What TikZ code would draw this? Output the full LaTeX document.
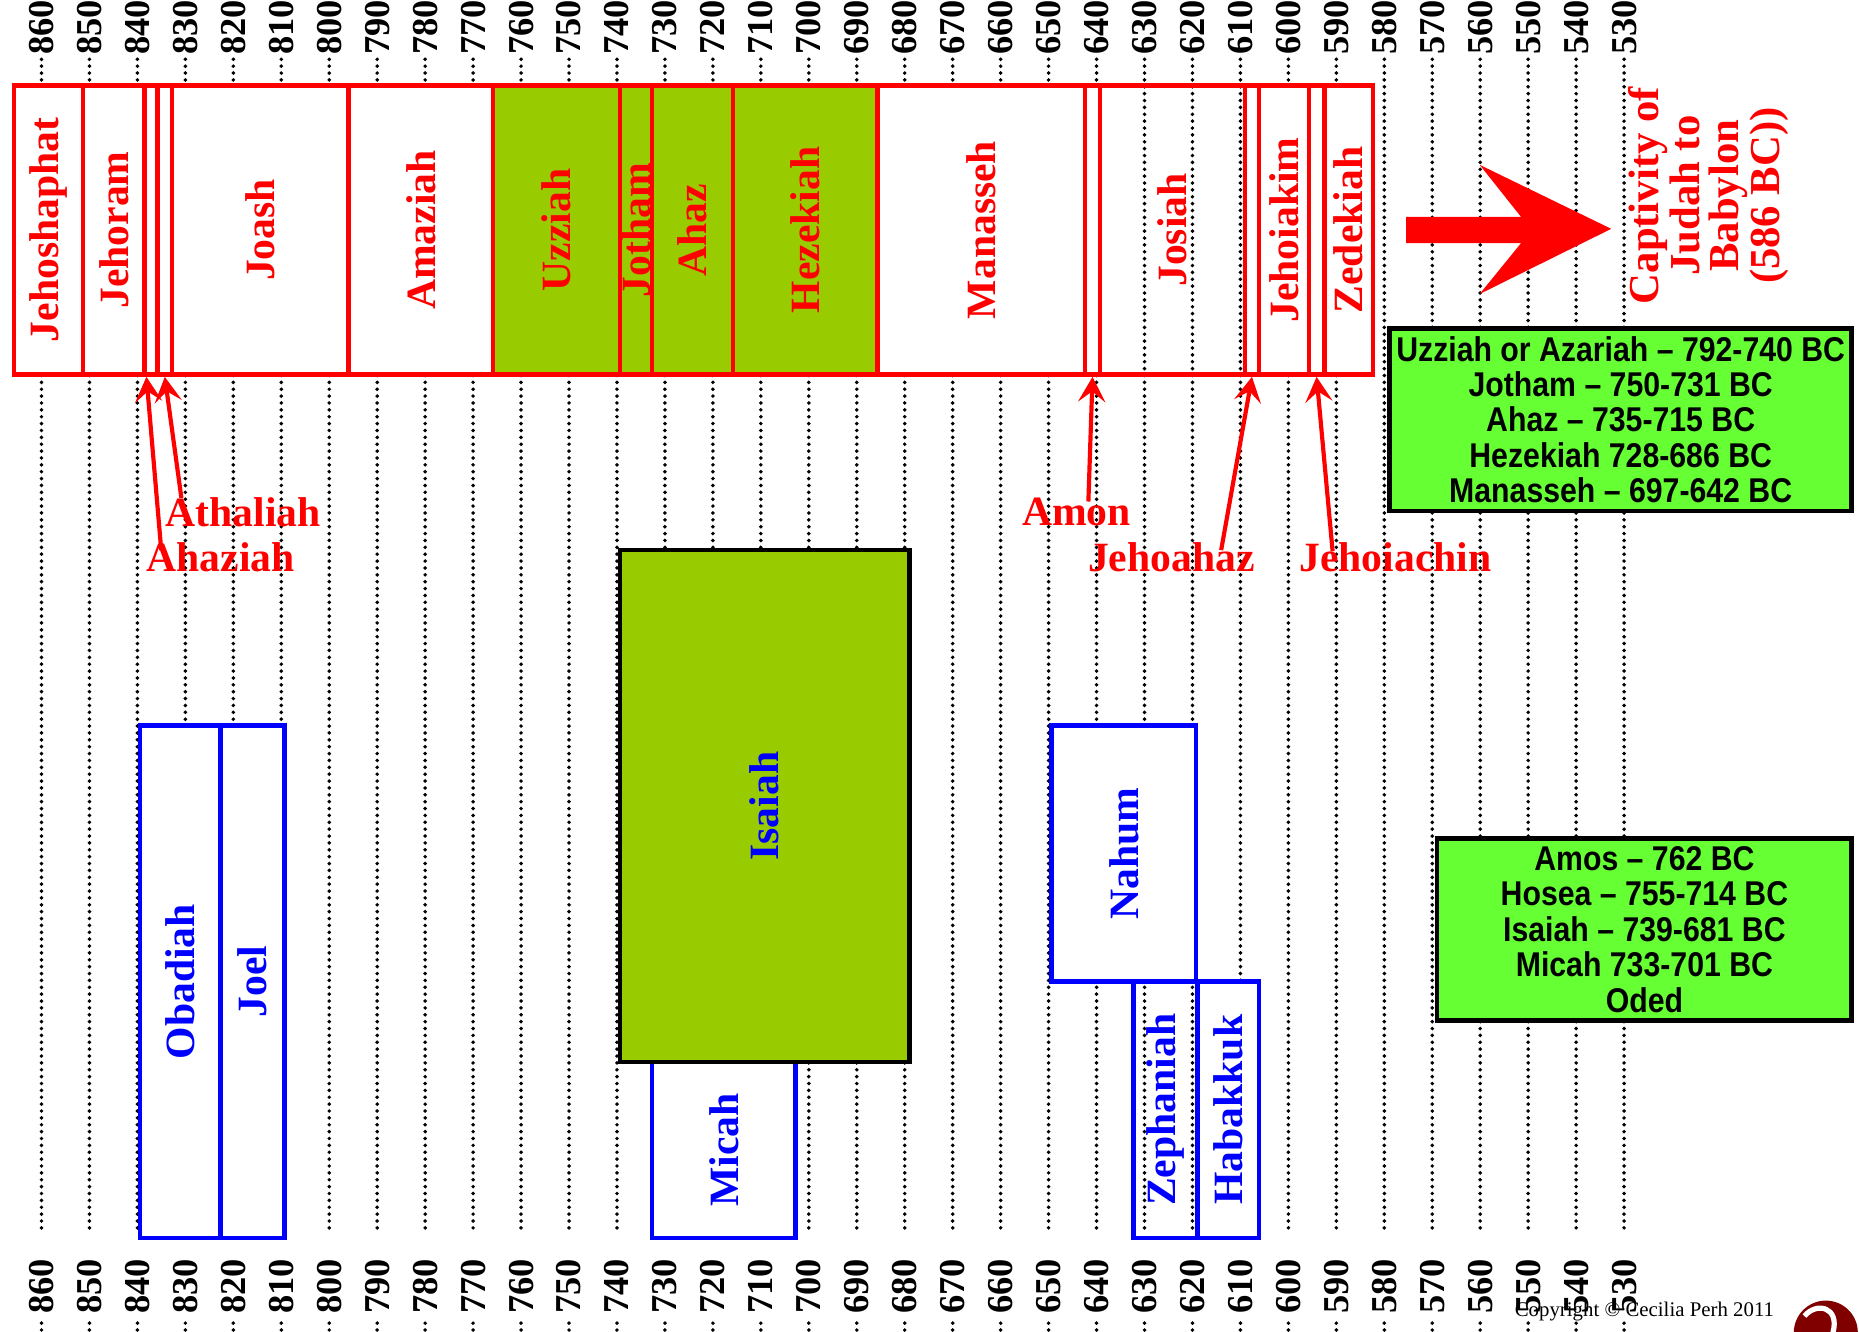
\documentclass[tikz,border=0pt]{standalone}
\usepackage{fontspec}
\setmainfont{Liberation Serif}
\newfontfamily\notefont[FakeStretch=0.88]{Liberation Sans}
\usetikzlibrary{arrows.meta,fit}

\definecolor{reigngreen}{RGB}{153,204,0}
\definecolor{notegreen}{RGB}{102,255,51}
\definecolor{logored}{RGB}{128,0,0}

\tikzset{
  yearline/.style={line width=1.9pt, dash pattern=on 0pt off 3.3pt, line cap=round},
  yearlabel/.style={rotate=90, inner sep=0pt, font=\bfseries\fontsize{17.5}{17.5}\selectfont},
  reign/.style={draw=red, line width=2.1pt, fill=white, inner sep=0pt},
  kingname/.style={rotate=90, text=red, font=\bfseries\fontsize{20}{20}\selectfont},
  book/.style={draw=blue, line width=2.1pt, fill=white, inner sep=0pt},
  bookname/.style={rotate=90, text=blue, font=\bfseries\fontsize{20}{20}\selectfont},
  callout/.style={text=red, font=\bfseries\fontsize{20}{20}\selectfont},
  pointer/.style={red, line width=2pt, -{Stealth[length=12pt,width=13pt,inset=5pt]}},
  notebox/.style={draw=black, line width=2.3pt, fill=notegreen, align=center, inner sep=0pt,
    font=\notefont\bfseries\fontsize{16.5}{17}\selectfont}
}

\begin{document}
\begin{tikzpicture}[x=0.02cm, y=-0.02cm]
\useasboundingbox (0,0) rectangle (1568,1123);

% year grid
\foreach \yr [evaluate=\yr as \xx using 35+(860-\yr)*4.045] in {860,850,...,530} {
  \draw[yearline] (\xx,50) -- (\xx,1040);
  \draw[yearline] (\xx,1116) -- (\xx,1126);
  \node[yearlabel] (top\yr) at (\xx,23) {\yr};
  \node[yearlabel] (bot\yr) at (\xx,1085) {\yr};
}

% kings of Judah
\node[reign, fit={(12,72) (70,316)}, label={[kingname]center:Jehoshaphat}] (jehoshaphat) {};
\node[reign, fit={(70,72) (122,316)}, label={[kingname]center:Jehoram}] (jehoram) {};
\node[reign, fit={(122,72) (133,316)}] (ahaziah) {};
\node[reign, fit={(133,72) (145,316)}] (athaliah) {};
\node[reign, fit={(145,72) (294,316)}, label={[kingname]center:Joash}] (joash) {};
\node[reign, fit={(294,72) (416,316)}, label={[kingname]center:Amaziah}] (amaziah) {};
\node[reign, fill=reigngreen, fit={(416,72) (523,316)}, label={[kingname]center:Uzziah}] (uzziah) {};
\node[reign, fill=reigngreen, fit={(523,72) (550,316)}, label={[kingname]center:Jotham}] (jotham) {};
\node[reign, fill=reigngreen, fit={(550,72) (618,316)}, label={[kingname]center:Ahaz}] (ahaz) {};
\node[reign, fill=reigngreen, fit={(618,72) (740,316)}, label={[kingname]center:Hezekiah}] (hezekiah) {};
\node[reign, fit={(740,72) (915,316)}, label={[kingname]center:Manasseh}] (manasseh) {};
\node[reign, fit={(915,72) (928,316)}] (amon) {};
\node[reign, fill=none, fit={(928,72) (1050,316)}, label={[kingname]center:Josiah}] (josiah) {};
\node[reign, fit={(1050,72) (1062,316)}] (jehoahaz) {};
\node[reign, fit={(1062,72) (1104,316)}, label={[kingname]center:Jehoiakim}] (jehoiakim) {};
\node[reign, fit={(1104,72) (1117,316)}] (jehoiachin) {};
\node[reign, fit={(1117,72) (1158,316)}, label={[kingname]center:Zedekiah}] (zedekiah) {};

% short reigns
\node[callout] (athaliahlbl) at (205,432) {Athaliah};
\node[callout] (ahaziahlbl) at (186,470) {Ahaziah};
\node[callout] (amonlbl) at (908,432) {Amon};
\node[callout] (jehoahazlbl) at (988,470) {Jehoahaz};
\node[callout] (jehoiachinlbl) at (1177,470) {Jehoiachin};

\draw[pointer] ([shift={(-50,-6)}]ahaziahlbl.center) -- ([xshift=-0.08cm]ahaziah.south);
\draw[pointer] ([shift={(-52,-12)}]athaliahlbl.center) -- (athaliah.south);
\draw[pointer] ([shift={(10,-9)}]amonlbl.center) -- (amon.south);
\draw[pointer] ([shift={(42,-6)}]jehoahazlbl.center) -- (jehoahaz.south);
\draw[pointer] ([shift={(-53,-5)}]jehoiachinlbl.center) -- (jehoiachin.south);

% captivity
\fill[red] (1186,183) -- (1283,183) -- (1248,139) -- (1359,193) -- (1248,248) -- (1283,205) -- (1186,205) -- cycle;
\node[kingname, align=center, font=\bfseries\fontsize{20.5}{18.5}\selectfont] (captivity) at (1441,165)
  {Captivity of\\Judah to\\Babylon\\(586 BC))};

% prophets
\node[book, fit={(118,612) (186,1044)}, label={[bookname]center:Obadiah}] (obadiah) {};
\node[book, fit={(186,612) (240,1044)}, label={[bookname]center:Joel}] (joel) {};
\node[book, fit={(550,896) (671,1044)}, label={[bookname]center:Micah}] (micah) {};
\node[book, draw=black, fill=reigngreen, fit={(523,464) (767,896)}, label={[bookname]center:Isaiah}] (isaiah) {};
\node[book, fit={(887,612) (1009,828)}, label={[bookname]center:Nahum}] (nahum) {};
\node[book, fill=none, fit={(956,828) (1010,1044)}, label={[bookname]center:Zephaniah}] (zephaniah) {};
\node[book, fit={(1010,828) (1062,1044)}, label={[bookname]center:Habakkuk}] (habakkuk) {};

% dates
\node[notebox, minimum width=7.8cm, minimum height=3.08cm] (kingdates) at (1367,354)
  {Uzziah or Azariah – 792-740 BC\\Jotham – 750-731 BC\\Ahaz – 735-715 BC\\Hezekiah 728-686 BC\\Manasseh – 697-642 BC};
\node[notebox, minimum width=7cm, minimum height=3.08cm] (prophetdates) at (1387,784)
  {Amos – 762 BC\\Hosea – 755-714 BC\\Isaiah – 739-681 BC\\Micah 733-701 BC\\Oded};

\node[font=\fontsize{10}{10}\selectfont] (copyright) at (1387,1106) {Copyright © Cecilia Perh 2011};
\fill[logored] (1540,1124) circle (27);
\draw[white, line width=2.5pt] (1522,1110) .. controls (1532,1098) and (1552,1102) .. (1546,1124);
\end{tikzpicture}
\end{document}
